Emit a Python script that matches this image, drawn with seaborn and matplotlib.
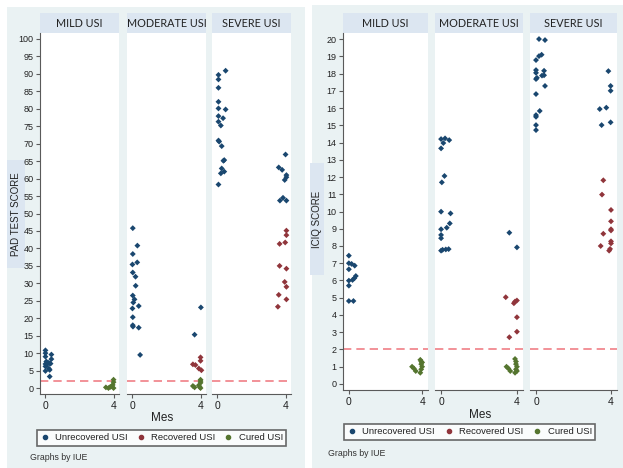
import matplotlib
matplotlib.use("Agg")
import matplotlib.pyplot as plt
from matplotlib.patches import Rectangle
from matplotlib.lines import Line2D
import seaborn as sns
import pandas as pd

# ---- data (mes = jittered month, score) ----
facets = ["MILD USI", "MODERATE USI", "SEVERE USI"]
status_names = ["Unrecovered USI", "Recovered USI", "Cured USI"]

# PAD test score
pad_mild_unrec_mes = [0.0, 0.0, 0.35, 0.0, 0.35, 0.05, 0.15, 0.25, 0.0, 0.1, 0.3, 0.0, 0.2, 0.0, 0.25, 0.25]
pad_mild_unrec = [10.8, 10.0, 9.6, 9.0, 8.3, 7.6, 7.3, 7.1, 6.9, 6.8, 7.0, 6.2, 5.6, 4.9, 5.2, 3.3]
pad_mild_cured_mes = [3.55, 3.7, 3.8, 3.95, 4.0, 4.0, 4.0, 3.9]
pad_mild_cured = [0.2, 0.0, 0.3, 0.9, 2.4, 1.7, 0.0, 0.5]

pad_mod_unrec_mes = [0.02, 0.29, 0.02, 0.28, 0.0, 0.02, 0.18, 0.19, 0.02, 0.12, 0.05, 0.37, 0.0, 0.02,
                     0.02, 0.03, 0.37, 0.45, 4.02, 3.65]
pad_mod_unrec = [45.8, 40.8, 38.4, 36.0, 35.4, 33.1, 31.9, 29.3, 26.5, 25.4, 24.5, 23.5, 22.8, 20.3,
                 18.0, 17.6, 17.3, 9.5, 23.1, 15.3]
pad_mod_recov_mes = [3.55, 3.7, 4.0, 4.0, 3.9, 4.05]
pad_mod_recov = [6.8, 6.6, 8.8, 7.8, 5.6, 5.1]
pad_mod_cured_mes = [3.55, 3.65, 3.95, 4.0, 4.0, 4.0, 4.0, 3.9]
pad_mod_cured = [0.6, 0.2, 0.3, 2.4, 2.0, 1.5, 0.0, 0.8]

pad_sev_unrec_mes = [0.48, 0.06, 0.06, 0.06, 0.06, 0.06, 0.48, 0.06, 0.33, 0.06, 0.2, 0.06, 0.1, 0.25,
                     0.35, 0.4, 0.25, 0.4, 0.2, 0.06,
                     4.0, 3.6, 3.8, 4.05, 4.05, 3.95, 3.67, 3.85, 4.05]
pad_sev_unrec = [90.9, 89.7, 88.4, 86.0, 82.0, 80.1, 79.8, 77.9, 77.3, 76.3, 75.2, 70.9, 70.6, 69.3,
                 65.1, 65.3, 62.9, 62.0, 61.5, 58.3,
                 66.9, 63.2, 62.5, 61.0, 60.4, 59.6, 53.7, 54.5, 53.7]
pad_sev_recov_mes = [4.05, 4.05, 3.65, 3.98, 3.65, 4.05, 3.95, 4.05, 3.6, 4.05, 3.55]
pad_sev_recov = [45.1, 43.8, 41.3, 41.7, 35.0, 34.2, 30.4, 29.0, 26.7, 25.4, 23.3]

# ICIQ score
iciq_mild_unrec_mes = [0.0, 0.0, 0.15, 0.32, 0.0, 0.38, 0.3, 0.2, 0.0, 0.0, 0.0, 0.25]
iciq_mild_unrec = [7.44, 7.0, 6.96, 6.86, 6.65, 6.26, 6.13, 6.03, 5.99, 5.7, 4.81, 4.81]
iciq_mild_cured_mes = [3.45, 3.55, 3.65, 3.9, 3.95, 3.95, 4.0, 3.95, 3.9, 4.0]
iciq_mild_cured = [1.0, 0.9, 0.75, 1.4, 1.3, 1.15, 1.0, 0.85, 0.65, 1.25]

iciq_mod_unrec_mes = [0.0, 0.21, 0.43, 0.12, 0.0, 0.04, 0.18, 0.0, 0.5, 0.46, 0.3, 0.0, 0.0, 0.0,
                      0.0, 0.08, 0.25, 0.4, 3.6, 4.0]
iciq_mod_unrec = [14.2, 14.24, 14.14, 13.97, 13.66, 11.69, 12.06, 9.99, 9.89, 9.31, 9.06, 8.97, 8.64, 8.45,
                  7.73, 7.78, 7.8, 7.82, 8.77, 7.92]
iciq_mod_recov_mes = [3.41, 3.84, 3.9, 4.0, 4.0, 4.0, 3.6]
iciq_mod_recov = [5.03, 4.68, 4.78, 4.84, 3.87, 3.03, 2.71]
iciq_mod_cured_mes = [3.45, 3.55, 3.65, 3.9, 3.95, 3.95, 4.0, 3.95, 3.9, 4.0]
iciq_mod_cured = [1.0, 0.9, 0.75, 1.45, 1.3, 1.15, 1.0, 0.85, 0.65, 0.75]

iciq_sev_unrec_mes = [0.16, 0.48, 0.3, 0.16, 0.0, 0.0, 0.0, 0.0, 0.05, 0.43, 0.43, 0.32, 0.48, 0.0,
                      0.2, 0.0, 0.0, 0.0, 0.0,
                      3.86, 3.98, 3.98, 3.4, 3.75, 3.5, 3.98]
iciq_sev_unrec = [20.0, 19.94, 19.09, 19.01, 18.78, 18.2, 18.04, 17.68, 17.75, 18.16, 17.9, 17.88, 17.28, 16.81,
                  15.83, 15.59, 15.49, 15.01, 14.72,
                  18.14, 17.28, 17.0, 15.94, 16.02, 15.01, 15.17]
iciq_sev_recov_mes = [3.59, 3.52, 4.0, 4.0, 4.0, 4.0, 3.59, 3.45, 4.0, 4.0, 3.9, 3.95]
iciq_sev_recov = [11.81, 10.98, 10.09, 9.43, 8.97, 8.9, 8.71, 8.0, 8.27, 8.15, 7.73, 7.83]

cutoff = 2

# ---- build long tables ----
def rows(score, facet, status, mes, val):
    return [dict(score=score, facet=facet, status=status, mes=m, value=v) for m, v in zip(mes, val)]

recs = []
recs += rows("PAD", facets[0], status_names[0], pad_mild_unrec_mes, pad_mild_unrec)
recs += rows("PAD", facets[0], status_names[2], pad_mild_cured_mes, pad_mild_cured)
recs += rows("PAD", facets[1], status_names[0], pad_mod_unrec_mes, pad_mod_unrec)
recs += rows("PAD", facets[1], status_names[1], pad_mod_recov_mes, pad_mod_recov)
recs += rows("PAD", facets[1], status_names[2], pad_mod_cured_mes, pad_mod_cured)
recs += rows("PAD", facets[2], status_names[0], pad_sev_unrec_mes, pad_sev_unrec)
recs += rows("PAD", facets[2], status_names[1], pad_sev_recov_mes, pad_sev_recov)
recs += rows("ICIQ", facets[0], status_names[0], iciq_mild_unrec_mes, iciq_mild_unrec)
recs += rows("ICIQ", facets[0], status_names[2], iciq_mild_cured_mes, iciq_mild_cured)
recs += rows("ICIQ", facets[1], status_names[0], iciq_mod_unrec_mes, iciq_mod_unrec)
recs += rows("ICIQ", facets[1], status_names[1], iciq_mod_recov_mes, iciq_mod_recov)
recs += rows("ICIQ", facets[1], status_names[2], iciq_mod_cured_mes, iciq_mod_cured)
recs += rows("ICIQ", facets[2], status_names[0], iciq_sev_unrec_mes, iciq_sev_unrec)
recs += rows("ICIQ", facets[2], status_names[1], iciq_sev_recov_mes, iciq_sev_recov)
df = pd.DataFrame(recs)

palette = {"Unrecovered USI": "#1a476f", "Recovered USI": "#90353b", "Cured USI": "#55752f"}
bg = "#eaf2f3"
strip = "#dce6f1"
axis_col = "#5a5a5a"

sns.set_theme(style="white")
plt.rcParams["font.family"] = ["Liberation Sans", "DejaVu Sans"]

W, H = 623, 468
fig = plt.figure(figsize=(W / 100, H / 100), dpi=100)
fig.patch.set_facecolor("white")


def fbox(x0, y0, x1, y1):
    return [x0 / W, 1 - y1 / H, (x1 - x0) / W, (y1 - y0) / H]


def frect(x0, y0, x1, y1, color):
    fig.patches.append(Rectangle((x0 / W, 1 - y1 / H), (x1 - x0) / W, (y1 - y0) / H,
                                 transform=fig.transFigure, facecolor=color, edgecolor="none",
                                 zorder=-10))


panels = [
    dict(score="PAD", bgbox=(7, 7, 305, 468), cols=[(40, 119), (127, 206), (212, 291)], top=33, bottom=394,
         ylim=(-1.7, 101.7), yticks=range(0, 101, 5), ylabel="PAD TEST SCORE", ybox=(7, 160, 25, 268),
         mes_xy=(162, 418), leg=(32, 429, 291, 447), note_xy=(30, 458)),
    dict(score="ICIQ", bgbox=(312, 5, 623, 468), cols=[(343, 428), (435, 523), (530, 617)], top=33, bottom=390,
         ylim=(-0.35, 20.35), yticks=range(0, 21, 1), ylabel="ICIQ SCORE", ybox=(310, 163, 324, 275),
         mes_xy=(480, 415), leg=(339, 422, 600, 442), note_xy=(328, 454)),
]

for p in panels:
    frect(*p["bgbox"], bg)
    x0, y0, x1, y1 = p["ybox"]
    frect(x0, y0, x1, y1, strip)
    fig.text((x0 + x1) / 2 / W, 1 - (y0 + y1) / 2 / H, p["ylabel"], rotation=90,
             ha="center", va="center", fontsize=7, color="#222222")
    sub = df[df["score"] == p["score"]]
    for i, (fac, (cx0, cx1)) in enumerate(zip(facets, p["cols"])):
        frect(cx0, 13, cx1, p["top"], strip)
        fig.text((cx0 + cx1) / 2 / W, 1 - 23.5 / H, fac, ha="center", va="center",
                 fontsize=7.8, family=["Lato", "DejaVu Sans"], color="#222222")
        ax = fig.add_axes(fbox(cx0, p["top"], cx1, p["bottom"]))
        ax.set_facecolor("white")
        d = sub[sub["facet"] == fac]
        ax.axhline(cutoff, color="#f07f86", lw=1.2, dashes=(5, 3), zorder=1)
        sns.scatterplot(data=d, x="mes", y="value", hue="status", palette=palette, marker="D",
                        s=9, linewidth=0, ax=ax, legend=False, zorder=3)
        ax.set_xlim(-0.32, 4.32)
        ax.set_ylim(*p["ylim"])
        ax.set_xticks([0, 4])
        ax.set_xlabel("")
        ax.set_ylabel("")
        for s in ["top", "right"]:
            ax.spines[s].set_visible(False)
        ax.spines["bottom"].set_color(axis_col)
        ax.spines["bottom"].set_linewidth(0.8)
        ax.tick_params(axis="x", direction="out", length=3, width=0.8, color=axis_col,
                       labelsize=7.5, pad=2, labelcolor="#222222", bottom=True)
        if i == 0:
            ax.spines["left"].set_color(axis_col)
            ax.spines["left"].set_linewidth(0.8)
            ax.set_yticks(list(p["yticks"]))
            ax.tick_params(axis="y", direction="out", length=3, width=0.8, color=axis_col,
                           labelsize=6.5, pad=1.5, labelcolor="#222222", left=True)
        else:
            ax.spines["left"].set_visible(False)
            ax.set_yticks([])
    fig.text(p["mes_xy"][0] / W, 1 - p["mes_xy"][1] / H, "Mes", ha="center", va="center",
             fontsize=8.5, color="#222222")
    handles = [Line2D([], [], marker="o", ls="", color=palette[n], markersize=3, label=n)
               for n in status_names]
    lx0, ly0, lx1, ly1 = p["leg"]
    leg = fig.legend(handles=handles, ncol=3, loc="center", mode="expand",
                     bbox_to_anchor=(lx0 / W, 1 - ly1 / H, (lx1 - lx0) / W, (ly1 - ly0) / H),
                     frameon=True, fancybox=False, fontsize=6.8, handletextpad=0.6,
                     borderpad=0.35, handlelength=1.0, labelcolor="#222222")
    leg.get_frame().set_edgecolor("#444444")
    leg.get_frame().set_linewidth(1.2)
    fig.text(p["note_xy"][0] / W, 1 - p["note_xy"][1] / H, "Graphs by IUE", ha="left", va="center",
             fontsize=6.3, color="#333333")

fig.savefig("out.png", dpi=100, facecolor="white")
